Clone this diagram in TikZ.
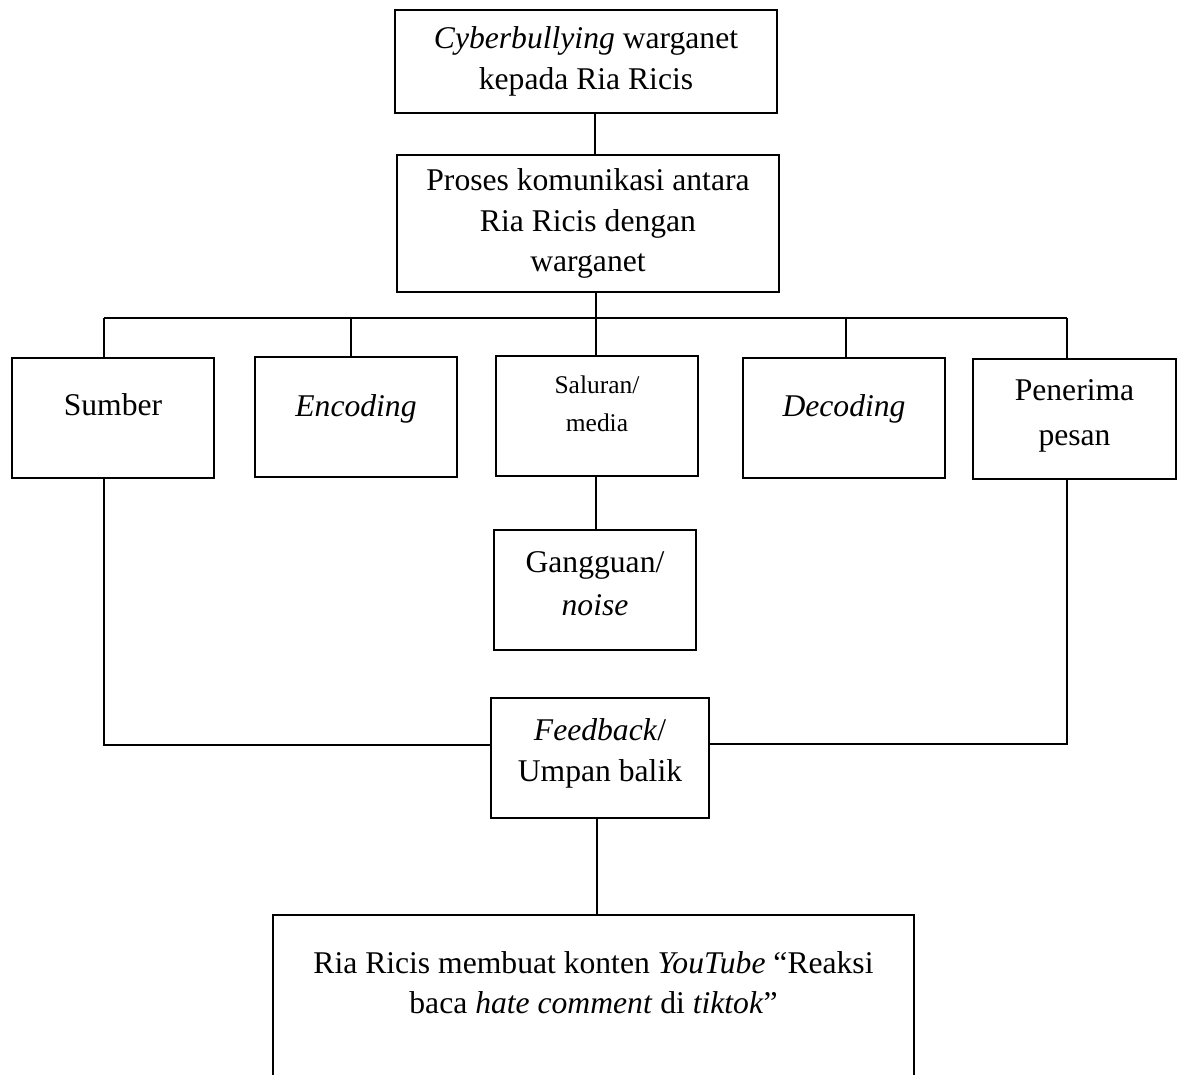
\documentclass[tikz,border=0pt]{standalone}
\usepackage{fontspec}
\setmainfont{Liberation Serif}
\usetikzlibrary{positioning}

\tikzset{
  kotak/.style={draw, line width=1.1pt, minimum width=4.04cm, minimum height=2.4cm, inner sep=0pt},
  isi/.style={align=center, font=\fontsize{18}{23}\selectfont},
  garis/.style={line width=1.1pt},
}

\begin{document}
\begin{tikzpicture}[x=0.02cm, y=-0.02cm]
  \useasboundingbox (0,0) rectangle (1181,1075);
  \clip (0,0) rectangle (1181,1075);

  % kotak atas
  \node[kotak, isi, minimum width=7.64cm, minimum height=2.06cm] (atas) at (586,61.5)
    {\textit{Cyberbullying} warganet\\kepada Ria Ricis};
  \node[kotak, isi, minimum width=7.64cm, minimum height=2.74cm] (proses) at (588,223.5)
    {Proses komunikasi antara\\Ria Ricis dengan\\warganet};

  % baris unsur komunikasi
  \node[kotak, label={[isi, yshift=0.26cm]center:Sumber}] (sumber) at (113,418) {};
  \node[kotak, label={[isi, yshift=0.16cm]center:\textit{Encoding}}] (encoding) at (356,417) {};
  \node[kotak, label={[isi, font=\fontsize{14.5}{21.5}\selectfont, yshift=0.24cm]center:Saluran/\\media}] (saluran) at (597,416) {};
  \node[kotak, label={[isi, yshift=0.18cm]center:\textit{Decoding}}] (decoding) at (844,418) {};
  \node[kotak, minimum width=4.06cm, label={[isi, font=\fontsize{18}{25.5}\selectfont, yshift=0.07cm]center:Penerima\\pesan}] (penerima) at (1074.5,419) {};

  \node[kotak, label={[isi, font=\fontsize{18}{24.5}\selectfont, yshift=0.13cm]center:Gangguan/\\\textit{noise}}] (gangguan) at (595,590) {};
  \node[kotak, minimum width=4.36cm, label={[isi, yshift=0.09cm]center:\textit{Feedback}/\\Umpan balik}] (feedback) at (600,758) {};

  % kotak bawah, terpotong di tepi
  \node[kotak, minimum width=12.82cm, minimum height=4cm,
    label={[isi, yshift=0.65cm]center:Ria Ricis membuat konten \textit{YouTube} “Reaksi\\baca \textit{hate comment} di \textit{tiktok}”}] (bawah) at (593.5,1015) {};

  % garis penghubung
  \coordinate (kiri) at (104,318);
  \coordinate (kanan) at (1067,318);
  \draw[garis] ([xshift=0.18cm]atas.south) -- ([xshift=0.18cm]atas.south |- proses.north);
  \draw[garis] ([xshift=0.16cm]proses.south) -- ([xshift=0.16cm]proses.south |- kiri);
  \draw[garis] (kiri) -- (kanan);
  \draw[garis] (kiri) -- (kiri |- sumber.north);
  \draw[garis] ([xshift=-0.1cm]encoding.north) -- ([xshift=-0.1cm]encoding.north |- kiri);
  \draw[garis] ([xshift=-0.02cm]saluran.north) -- ([xshift=-0.02cm]saluran.north |- kiri);
  \draw[garis] ([xshift=0.04cm]decoding.north) -- ([xshift=0.04cm]decoding.north |- kiri);
  \draw[garis] (kanan) -- (kanan |- penerima.north);
  \draw[garis] ([xshift=-0.02cm]saluran.south) -- ([xshift=-0.02cm]saluran.south |- gangguan.north);

  % umpan balik
  \draw[garis] ([xshift=-0.18cm]sumber.south) |- ([yshift=0.26cm]feedback.west);
  \draw[garis] ([xshift=-0.15cm]penerima.south) |- ([yshift=0.28cm]feedback.east);
  \draw[garis] ([xshift=-0.06cm]feedback.south) -- ([xshift=-0.06cm]feedback.south |- bawah.north);
\end{tikzpicture}
\end{document}
